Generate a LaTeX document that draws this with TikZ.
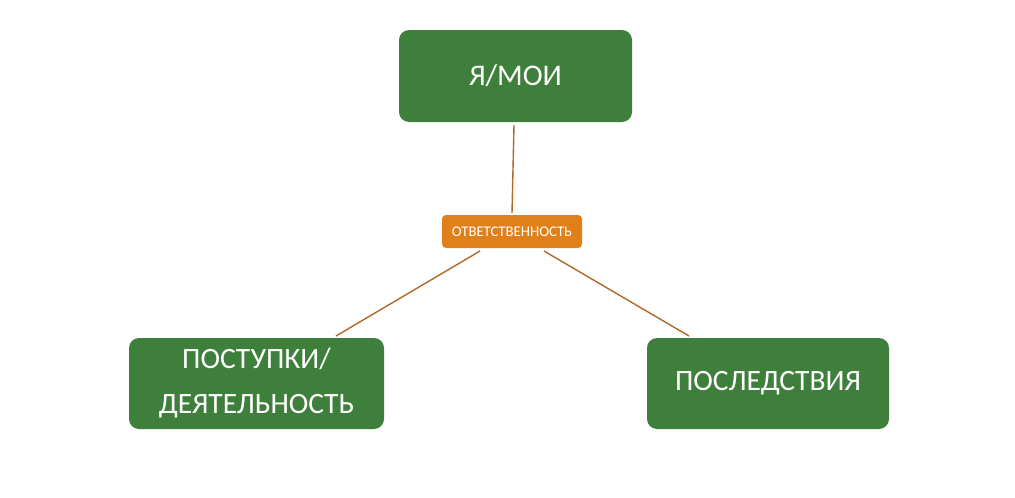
\documentclass[tikz,border=0pt]{standalone}
\usepackage{fontspec}
\setmainfont{Carlito}
\definecolor{boxgreen}{HTML}{3E7F3B}
\definecolor{boxorange}{HTML}{E0801A}
\definecolor{linkbrown}{HTML}{B0692A}
\begin{document}
\begin{tikzpicture}[x=1pt,y=-1pt,
  gbox/.style={fill=boxgreen,rounded corners=10pt,text=white,align=center,inner sep=0pt},
  obox/.style={fill=boxorange,rounded corners=4pt,text=white,inner sep=0pt},
  link/.style={draw=linkbrown,line width=1.4pt}]
\useasboundingbox (0,0) rectangle (1015,498);
\fill[white] (0,0) rectangle (1015,498);
\node[gbox,minimum width=233pt,minimum height=92pt,font=\fontsize{30}{36}\selectfont] (me) at (515.5,76) {Я/МОИ};
\node[obox,minimum width=140pt,minimum height=33pt,font=\fontsize{14.8}{17}\selectfont] (resp) at (512,231.5) {ОТВЕТСТВЕННОСТЬ};
\node[gbox,minimum width=255pt,minimum height=91pt,font=\fontsize{29.5}{45}\selectfont] (acts) at (256.5,383.5) {ПОСТУПКИ/\\ДЕЯТЕЛЬНОСТЬ};
\node[gbox,minimum width=242pt,minimum height=91pt,font=\fontsize{29.5}{35}\selectfont] (cons) at (768,383.5) {ПОСЛЕДСТВИЯ};
\coordinate (a1) at (514,125);
\coordinate (a2) at (512,213);
\coordinate (b1) at (480,251);
\coordinate (b2) at (336,336);
\coordinate (c1) at (544,251);
\coordinate (c2) at (689,336);
\draw[link] (a1) -- (a2);
\draw[link] (b1) -- (b2);
\draw[link] (c1) -- (c2);
\end{tikzpicture}
\end{document}
